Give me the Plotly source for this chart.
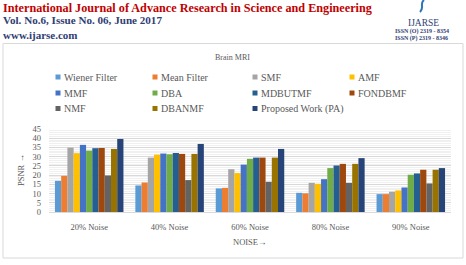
import plotly.graph_objects as go

categories = ["20% Noise", "40% Noise", "60% Noise", "80% Noise", "90% Noise"]
series_names = ["Wiener Filter", "Mean Filter", "SMF", "AMF", "MMF", "DBA",
                "MDBUTMF", "FONDBMF", "NMF", "DBANMF", "Proposed Work (PA)"]
wiener = [16.9, 14.4, 12.8, 10.4, 9.7]
mean_f = [19.6, 16.0, 13.1, 10.1, 9.7]
smf = [34.9, 29.5, 23.2, 15.8, 11.0]
amf = [31.9, 31.1, 21.1, 15.3, 11.7]
mmf = [36.4, 31.7, 25.7, 17.8, 13.3]
dba = [33.3, 31.3, 28.8, 23.8, 20.2]
mdbutmf = [34.6, 32.0, 29.5, 25.2, 20.9]
fondbmf = [34.7, 31.5, 29.5, 26.1, 22.9]
nmf = [19.8, 17.3, 16.4, 15.8, 15.5]
dbanmf = [34.2, 31.5, 29.5, 26.1, 22.9]
proposed = [39.6, 36.9, 34.2, 29.2, 23.8]
series_values = [wiener, mean_f, smf, amf, mmf, dba, mdbutmf, fondbmf, nmf, dbanmf, proposed]
colors = ["#5B9BD5", "#ED7D31", "#A5A5A5", "#FFC000", "#4472C4", "#70AD47",
          "#255E91", "#9E480E", "#636363", "#997300", "#264478"]
y_ticks = [0, 5, 10, 15, 20, 25, 30, 35, 40, 45]

W, H = 466, 265
L, R, T, B = 49, 15, 129, 53
PW, PH = W - L - R, H - T - B


def px(x):
    return (x - L) / PW


def py(y):
    return (H - B - y) / PH


fig = go.Figure()
for name, vals, col in zip(series_names, series_values, colors):
    fig.add_trace(go.Bar(x=categories, y=vals, name=name, marker_color=col,
                         marker_line_width=0))

serif = "Liberation Serif"
gray = "#595959"

fig.update_layout(
    width=W, height=H, autosize=False,
    margin=dict(l=L, r=R, t=T, b=B, pad=0),
    paper_bgcolor="white", plot_bgcolor="white",
    barmode="group", bargap=0.148, bargroupgap=0,
    showlegend=False,
    font=dict(family=serif, color=gray, size=8.5),
    xaxis=dict(showgrid=False, showline=True, linecolor="#D9D9D9", linewidth=1,
               ticks="", tickfont=dict(size=8.5, color=gray, family=serif),
               ticklabelstandoff=7),
    yaxis=dict(range=[0, 45], tickvals=y_ticks, showline=False, zeroline=False,
               gridcolor="#D9D9D9", gridwidth=1,
               minor=dict(dtick=1, showgrid=True, gridcolor="#F0F0F0", gridwidth=1),
               tickfont=dict(size=8.5, color=gray, family=serif),
               ticks="", ticklabelstandoff=7),
)

ann = []
shapes = []

# Chart border box
shapes.append(dict(type="rect", xref="paper", yref="paper",
                   x0=px(3), x1=px(463), y0=py(258), y1=py(43.5),
                   line=dict(color="#D9D9D9", width=1), fillcolor="rgba(0,0,0,0)", layer="below"))

# Header
ann.append(dict(text="<b>International Journal of Advance Research in Science and Engineering</b>",
                x=px(2), y=py(0), xanchor="left", yanchor="top", showarrow=False,
                xref="paper", yref="paper", borderpad=0,
                font=dict(family=serif, size=12.2, color="#C00000")))
ann.append(dict(text="<b>Vol. No.6, Issue No. 06, June 2017</b>",
                x=px(2), y=py(19.5), xanchor="left", yanchor="middle", showarrow=False,
                xref="paper", yref="paper", borderpad=0,
                font=dict(family=serif, size=11.1, color="#2F3E73")))
ann.append(dict(text="<b>www.ijarse.com</b>",
                x=px(2), y=py(34.5), xanchor="left", yanchor="middle", showarrow=False,
                xref="paper", yref="paper", borderpad=0,
                font=dict(family=serif, size=11, color="#2F3E73")))
ann.append(dict(text="IJARSE",
                x=px(423), y=py(23), xanchor="center", yanchor="middle", showarrow=False,
                xref="paper", yref="paper", borderpad=0,
                font=dict(family=serif, size=9.5, color="#2F3E73")))
ann.append(dict(text="<b>ISSN (O) 2319 - 8354</b>",
                x=px(421.5), y=py(31.5), xanchor="center", yanchor="middle", showarrow=False,
                xref="paper", yref="paper", borderpad=0,
                font=dict(family=serif, size=6, color="#2F3E73")))
ann.append(dict(text="<b>ISSN (P) 2319 - 8346</b>",
                x=px(421.5), y=py(38.5), xanchor="center", yanchor="middle", showarrow=False,
                xref="paper", yref="paper", borderpad=0,
                font=dict(family=serif, size=6, color="#2F3E73")))
# logo squiggle
pts = [(424, 0), (419, 4), (425, 7), (420, 12)]
path = "M {} {} C {} {}, {} {}, {} {}".format(
    px(pts[0][0]), py(pts[0][1]), px(pts[1][0]), py(pts[1][1]),
    px(pts[2][0]), py(pts[2][1]), px(pts[3][0]), py(pts[3][1]))
shapes.append(dict(type="path", xref="paper", yref="paper", path=path,
                   line=dict(color="#2E75B6", width=2)))

# Title
ann.append(dict(text="Brain MRI", x=px(232), y=py(57), xanchor="center", yanchor="middle",
                showarrow=False, xref="paper", yref="paper",
                font=dict(family=serif, size=8, color=gray)))

# Legend (4 columns x 3 rows)
col_x = [58, 155, 255, 352]
row_y = [77, 93, 108.5]
for i, (name, col) in enumerate(zip(series_names, colors)):
    cx = col_x[i % 4]
    ry = row_y[i // 4]
    shapes.append(dict(type="rect", xref="paper", yref="paper",
                       x0=px(cx - 2.5), x1=px(cx + 2.5), y0=py(ry + 2.5), y1=py(ry - 2.5),
                       fillcolor=col, line=dict(width=0)))
    ann.append(dict(text=name, x=px(cx + 4), y=py(ry), xanchor="left", yanchor="middle",
                    showarrow=False, xref="paper", yref="paper",
                    font=dict(family=serif, size=10, color=gray)))

# Axis titles
ann.append(dict(text="PSNR \u2192", x=px(21), y=py(170), xanchor="center", yanchor="middle",
                textangle=-90, showarrow=False, xref="paper", yref="paper",
                font=dict(family=serif, size=8.5, color=gray)))
ann.append(dict(text="NOISE\u2192", x=px(250), y=py(242), xanchor="center", yanchor="middle",
                showarrow=False, xref="paper", yref="paper",
                font=dict(family=serif, size=8.5, color=gray)))

fig.update_layout(annotations=ann, shapes=shapes)
fig.write_html("out.html")
